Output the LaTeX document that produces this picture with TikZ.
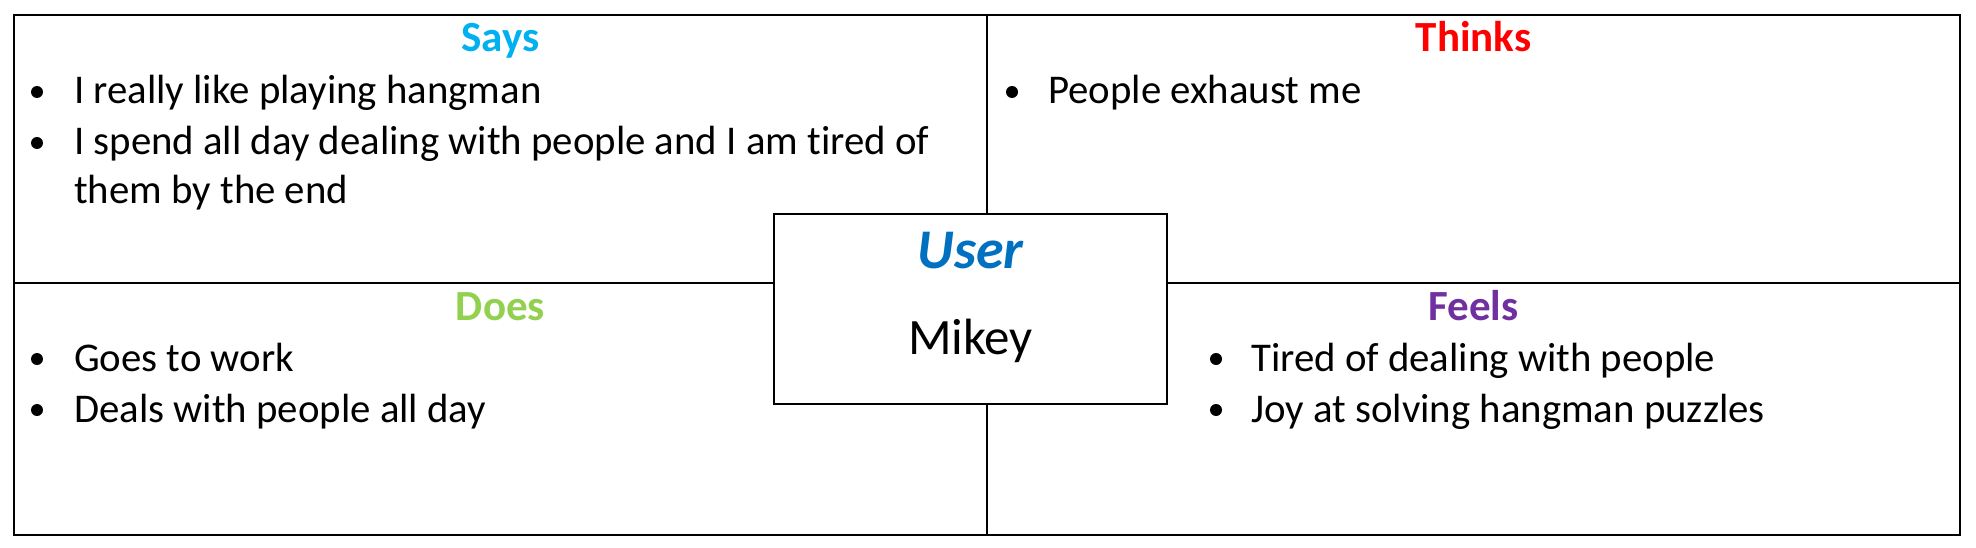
\documentclass[tikz,border=0pt]{standalone}
\usepackage{fontspec}
\setmainfont{Carlito}[RawFeature=-liga]
\definecolor{saysc}{HTML}{00B0F0}
\definecolor{thinksc}{HTML}{FF0000}
\definecolor{doesc}{HTML}{92D050}
\definecolor{feelsc}{HTML}{7030A0}
\definecolor{userc}{HTML}{0070C0}
\begin{document}
\begin{tikzpicture}[x=1pt,y=-1pt,
  frame/.style={line width=1.4pt},
  head/.style={anchor=base, inner sep=0pt, font=\fontsize{43}{50}\selectfont\bfseries},
  item/.style={anchor=base west, inner sep=0pt, font=\fontsize{40.8}{48}\selectfont},
  dot/.style={circle, fill=black, inner sep=0pt, minimum size=12pt}]
\useasboundingbox (0,0) rectangle (1976,548);
% frame
\coordinate (tl) at (14,15);
\coordinate (br) at (1960,535);
\coordinate (vt) at (987,15);
\coordinate (vb) at (987,535);
\coordinate (hl) at (14,283);
\coordinate (hr) at (1960,283);
\draw[frame] (tl) rectangle (br);
\draw[frame] (vt) -- (vb);
\draw[frame] (hl) -- (hr);
% headers
\node[head, text=saysc] (says) at (500.5,52) {Says};
\node[head, text=thinksc] (thinks) at (1473.5,52) {Thinks};
\node[head, text=doesc] (does) at (500.5,320) {Does};
\node[head, text=feelsc] (feels) at (1473.5,320) {Feels};
% Says items
\node[dot] (sd1) at (37,92) {};
\node[item] (s1) at (74,104) {I really like playing hangman};
\node[dot] (sd2) at (37,143) {};
\node[item] (s2) at (74,155) {I spend all day dealing with people and I am tired of};
\node[item] (s3) at (74,204) {them by the end};
% Thinks items
\node[dot] (td1) at (1012,92) {};
\node[item] (t1) at (1048,104) {People exhaust me};
% Does items
\node[dot] (dd1) at (37,359) {};
\node[item] (d1) at (74,371) {Goes to work};
\node[dot] (dd2) at (37,410) {};
\node[item] (d2) at (74,422) {Deals with people all day};
% Feels items
\node[dot] (fd1) at (1216,359) {};
\node[item] (f1) at (1251,371) {Tired of dealing with people};
\node[dot] (fd2) at (1216,410) {};
\node[item] (f2) at (1251,422) {Joy at solving hangman puzzles};
% center box
\node[draw, frame, fill=white, inner sep=0pt, minimum width=393pt, minimum height=190pt] (box) at (970.5,309) {};
\node[anchor=base, inner sep=0pt, text=userc, font=\fontsize{56}{62}\selectfont\bfseries\itshape] (user) at (970.5,269) {User};
\node[anchor=base, inner sep=0pt, font=\fontsize{51}{58}\selectfont] (mikey) at (970.5,354) {Mikey};
\end{tikzpicture}
\end{document}
